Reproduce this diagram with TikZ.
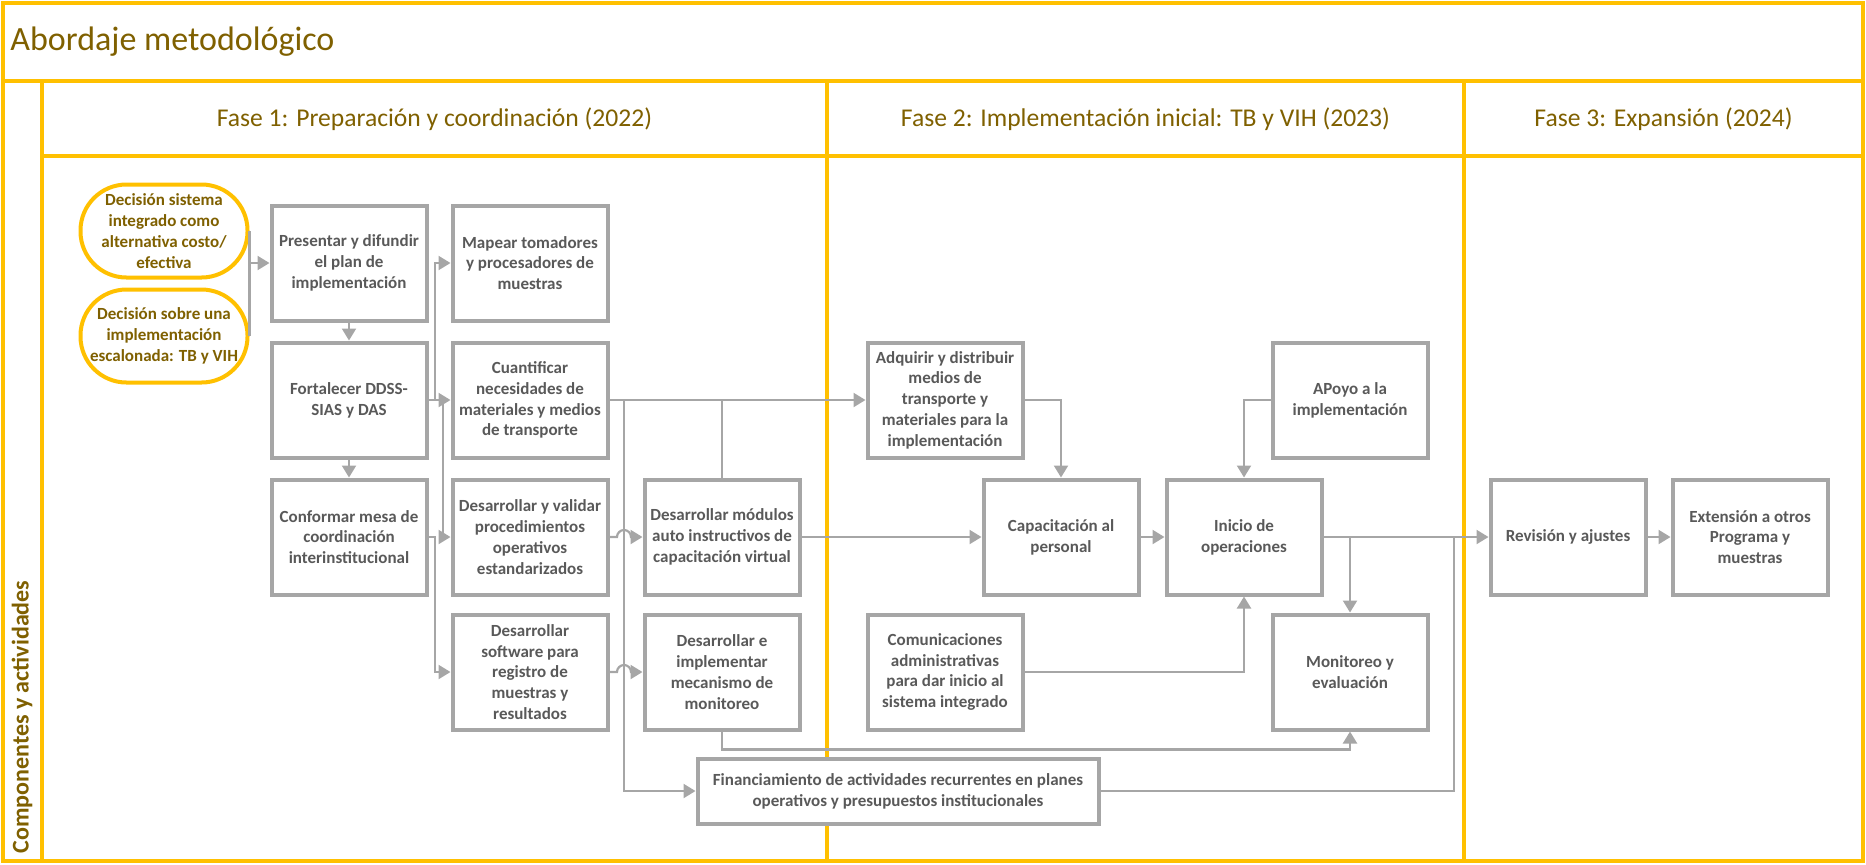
\documentclass[tikz,border=0pt]{standalone}
\usepackage{fontspec}
\setmainfont{Carlito}
\usetikzlibrary{arrows.meta}
\definecolor{gold}{HTML}{FFC000}
\definecolor{olive}{HTML}{7F6000}
\definecolor{bgray}{HTML}{A6A6A6}
\definecolor{tgray}{HTML}{595959}
\tikzset{
  frameline/.style={draw=gold, line width=1.6pt},
  htext/.style={text=olive, inner sep=0pt},
  box/.style={draw=bgray, line width=2pt, fill=white, minimum width=77.5pt, minimum height=57.5pt,
    align=center, inner sep=1pt, text=tgray,
    font=\bfseries\fontsize{8.5}{10.4}\selectfont},
  oval/.style={draw=gold, line width=2pt, fill=white, minimum width=83.5pt, minimum height=46.5pt,
    rounded corners=23pt, align=center, inner sep=1pt, text=olive,
    font=\bfseries\fontsize{8.5}{10.4}\selectfont},
  conn/.style={draw=bgray, line width=1.1pt},
  arr/.style={conn, -{Triangle[length=6pt,width=7pt]}}
}
\begin{document}
\begin{tikzpicture}[x=0.5pt,y=-0.5pt]
\useasboundingbox (0,0) rectangle (1866,864);
% frame
\draw[frameline] (3,3) rectangle (1863,861);
\draw[frameline] (3,81) -- (1863,81);
\draw[frameline] (42,81) -- (42,861);
\draw[frameline] (42,156) -- (1863,156);
\draw[frameline] (827,81) -- (827,861);
\draw[frameline] (1464,81) -- (1464,861);
% headers
\node[htext, anchor=west, font=\fontsize{17}{20}\selectfont] (title) at (10,42) {Abordaje metodológico};
\node[htext, font=\fontsize{12.8}{15}\selectfont] (ph1) at (434.5,119) {Fase 1: Preparación y coordinación (2022)};
\node[htext, font=\fontsize{12.8}{15}\selectfont] (ph2) at (1145.5,119) {Fase 2: Implementación inicial: TB y VIH (2023)};
\node[htext, font=\fontsize{12.8}{15}\selectfont] (ph3) at (1663.5,119) {Fase 3: Expansión (2024)};
\node[htext, rotate=90, font=\bfseries\fontsize{12}{14}\selectfont] (comp) at (22,717) {Componentes y actividades};
% nodes
\node[oval] (d1) at (164,231) {Decisión sistema\\integrado como\\alternativa costo/\\efectiva};
\node[oval] (d2) at (164,336) {Decisión sobre una\\implementación\\escalonada: TB y VIH};
\node[box] (pres) at (349,263) {Presentar y difundir\\el plan de\\implementación};
\node[box] (fort) at (349,400) {Fortalecer DDSS-\\SIAS y DAS};
\node[box] (conf) at (349,537) {Conformar mesa de\\coordinación\\interinstitucional};
\node[box] (map) at (530,263) {Mapear tomadores\\y procesadores de\\muestras};
\node[box] (cuan) at (530,400) {Cuantificar\\necesidades de\\materiales y medios\\de transporte};
\node[box] (val) at (530,537) {Desarrollar y validar\\procedimientos\\operativos\\estandarizados};
\node[box] (soft) at (530,672) {Desarrollar\\software para\\registro de\\muestras y\\resultados};
\node[box] (mod) at (722,537) {Desarrollar módulos\\auto instructivos de\\capacitación virtual};
\node[box] (imp) at (722,672) {Desarrollar e\\implementar\\mecanismo de\\monitoreo};
\node[box, minimum width=200.5pt, minimum height=32.5pt] (fin) at (898,791) {Financiamiento de actividades recurrentes en planes\\operativos y presupuestos institucionales};
\node[box] (adq) at (945,400) {Adquirir y distribuir\\medios de\\transporte y\\materiales para la\\implementación};
\node[box] (cap) at (1061,537) {Capacitación al\\personal};
\node[box] (ini) at (1244,537) {Inicio de\\operaciones};
\node[box] (apo) at (1350,400) {APoyo a la\\implementación};
\node[box] (com) at (945,672) {Comunicaciones\\administrativas\\para dar inicio al\\sistema integrado};
\node[box] (mon) at (1350,672) {Monitoreo y\\evaluación};
\node[box] (rev) at (1568,537) {Revisión y ajustes};
\node[box] (ext) at (1750,537) {Extensión a otros\\Programa y\\muestras};
% helper coordinates
\coordinate (b1) at (435,400);
\coordinate (b2) at (443,400);
\coordinate (f1) at (624,400);
\coordinate (f2) at (1454,537);
\coordinate (h1) at (624,537);
\coordinate (h2) at (624,672);
% connectors
\draw[conn] (d1.east) -- (d2.east);
\draw[arr] (d1.east |- pres.west) -- (pres.west);
\draw[arr] (pres) -- (fort);
\draw[arr] (fort) -- (conf);
\draw[arr] (fort) -- (cuan);
\draw[arr] (b1) |- (map.west);
\draw[arr] (b2) |- (val.west);
\draw[arr] (conf.east) -- (conf.east -| b1) |- (soft.west);
\draw[arr] (cuan) -- (adq);
\draw[arr] (f1) |- (fin.west);
\draw[conn] (mod.north) -- (mod.north |- cuan.east);
\draw[arr] (val.east) -- ([xshift=-3.5pt]h1) arc[start angle=180,end angle=0,radius=3.5pt] -- (mod.west);
\draw[arr] (soft.east) -- ([xshift=-3.5pt]h2) arc[start angle=180,end angle=0,radius=3.5pt] -- (imp.west);
\draw[arr] (mod) -- (cap);
\draw[arr] (adq.east) -| (cap.north);
\draw[arr] (cap) -- (ini);
\draw[arr] (apo.west) -| (ini.north);
\draw[arr] (com.east) -| (ini.south);
\draw[arr] (ini) -- (rev);
\draw[arr] (ini.east -| mon.north) -- (mon.north);
\draw[conn] (fin.east) -| (f2);
\draw[arr] (imp.south) -- ++(0,18) -| (mon.south);
\draw[arr] (rev) -- (ext);
\end{tikzpicture}
\end{document}
